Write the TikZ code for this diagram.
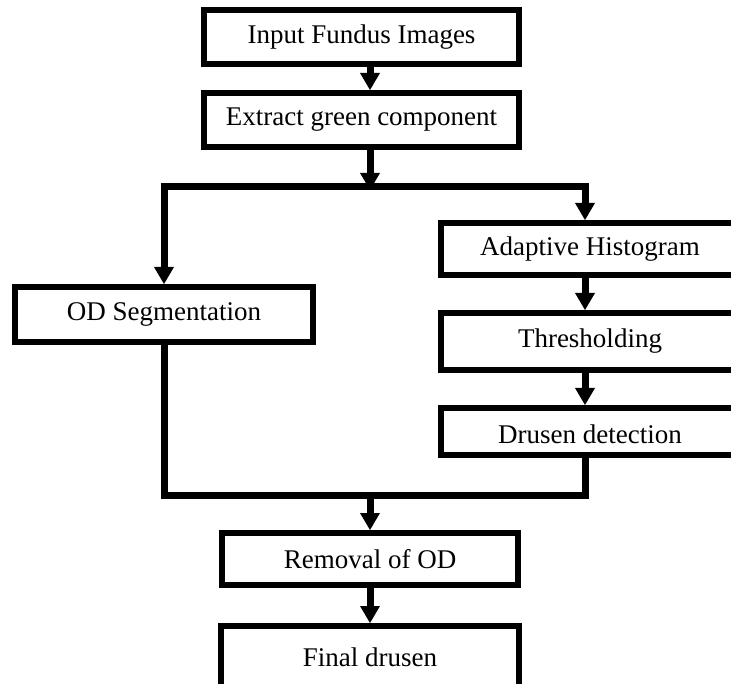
\documentclass[tikz,border=0pt]{standalone}
\usepackage{fontspec}
\setmainfont{Liberation Serif}
\usetikzlibrary{arrows.meta,calc}
\tikzset{
  StepBox/.style={draw=black,line width=6pt,inner sep=0pt,fill=white,
    font=\fontsize{27}{32}\selectfont},
  FlowLine/.style={line width=7pt,line join=miter},
  FlowArr/.style={FlowLine,-{Triangle[width=20pt,length=17pt,line width=0pt]}}
}

\begin{document}
\begin{tikzpicture}[x=1pt,y=-1pt]
\path[use as bounding box,clip] (0,0) rectangle (731,684);

\coordinate (trunk) at (370,0);
\coordinate (ltrunk) at (164,0);
\coordinate (rtrunk) at (585,0);
\coordinate (split) at (370,187);
\coordinate (merge) at (370,495);

\node[StepBox,minimum width=315pt,minimum height=54pt] (input) at (361.5,37) {Input Fundus Images};
\node[StepBox,minimum width=315pt,minimum height=54pt] (extract) at (361.5,120) {Extract green component};
\node[StepBox,minimum width=298pt,minimum height=55pt] (od) at (164,314.5) {OD Segmentation};
\node[StepBox,minimum width=298pt,minimum height=52pt] (adapt) at (590,249) {Adaptive Histogram};
\node[StepBox,minimum width=298pt,minimum height=57pt] (thresh) at (590,341.5) {Thresholding};
\node[StepBox,minimum width=298pt,minimum height=47pt,text height=30pt,text depth=6pt] (drusen) at (590,431.5) {Drusen detection};
\node[StepBox,minimum width=296pt,minimum height=52pt] (removal) at (370,559) {Removal of OD};
\node[StepBox,minimum width=298pt,minimum height=62pt] (final) at (370,657) {Final drusen};

\draw[FlowArr] (input.south -| trunk) -- (extract.north -| trunk);
\draw[FlowArr] (extract.south -| trunk) -- ([yshift=-3pt]split);
\draw[FlowArr] (split) -| (od.north -| ltrunk);
\draw[FlowArr] (split) -| (adapt.north -| rtrunk);
\draw[FlowArr] (adapt.south -| rtrunk) -- (thresh.north -| rtrunk);
\draw[FlowArr] (thresh.south -| rtrunk) -- (drusen.north -| rtrunk);
\draw[FlowLine] (od.south -| ltrunk) |- (merge) -| (drusen.south -| rtrunk);
\draw[FlowArr] (merge) -- (removal.north -| trunk);
\draw[FlowArr] (removal.south -| trunk) -- (final.north -| trunk);

\end{tikzpicture}
\end{document}
